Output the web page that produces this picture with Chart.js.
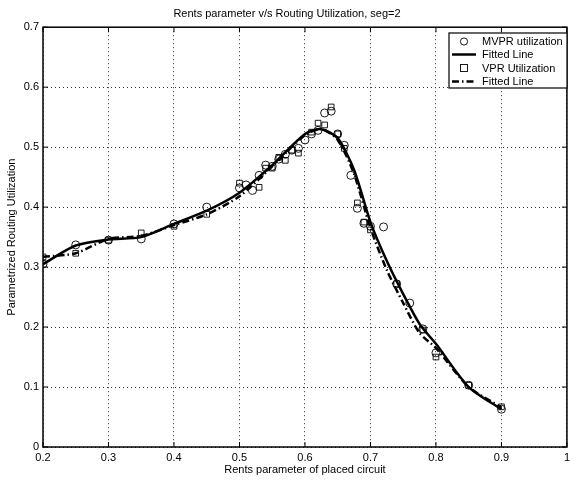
<!DOCTYPE html>
<html><head><meta charset="utf-8">
<script src="https://cdn.jsdelivr.net/npm/chart.js@4/dist/chart.umd.min.js"></script>
<style>html,body{margin:0;padding:0;background:#fff}#wrap{width:574px;height:481px}</style>
</head><body><div id="wrap"><canvas id="c" width="574" height="481"></canvas></div>
<script>
const titleText = "Rents parameter v/s Routing Utilization, seg=2";
const xLabel = "Rents parameter of placed circuit";
const yLabel = "Parametrized Routing Utilization";
const seriesNames = ["MVPR utilization", "Fitted Line", "VPR Utilization", "Fitted Line"];
const xTicks = [0.2,0.3,0.4,0.5,0.6,0.7,0.8,0.9,1];
const yTicks = [0,0.1,0.2,0.3,0.4,0.5,0.6,0.7];

const mvprX = [0.2,0.25,0.3,0.35,0.4,0.45,0.5,0.51,0.52,0.53,0.54,0.55,0.56,0.57,0.58,0.59,0.6,0.61,0.62,0.63,0.64,0.65,0.66,0.67,0.68,0.69,0.70,0.72,0.74,0.76,0.78,0.8,0.85,0.9];
const mvprY = [0.305,0.337,0.345,0.347,0.372,0.400,0.432,0.437,0.428,0.453,0.470,0.468,0.480,0.488,0.495,0.498,0.512,0.522,0.528,0.557,0.560,0.522,0.503,0.453,0.398,0.373,0.368,0.367,0.272,0.240,0.197,0.157,0.103,0.063];

const vprX = [0.2,0.25,0.3,0.35,0.4,0.45,0.5,0.53,0.54,0.55,0.56,0.57,0.58,0.59,0.61,0.62,0.63,0.64,0.65,0.66,0.68,0.69,0.70,0.74,0.78,0.8,0.85,0.9];
const vprY = [0.317,0.323,0.345,0.357,0.368,0.388,0.440,0.433,0.465,0.465,0.483,0.478,0.495,0.490,0.525,0.540,0.537,0.567,0.522,0.498,0.407,0.375,0.362,0.272,0.195,0.150,0.103,0.067];

const fitX = [0.2,0.25,0.3,0.35,0.4,0.45,0.5,0.55,0.6,0.625,0.65,0.675,0.7,0.725,0.75,0.775,0.8,0.85,0.9];
const fitMvprY = [0.305,0.336,0.346,0.350,0.372,0.394,0.424,0.470,0.522,0.530,0.515,0.462,0.375,0.310,0.255,0.205,0.172,0.100,0.063];
const fitVprY  = [0.317,0.323,0.347,0.352,0.370,0.388,0.418,0.468,0.520,0.530,0.512,0.455,0.365,0.295,0.240,0.190,0.165,0.100,0.066];

const pts = (xs, ys) => xs.map((x, i) => ({x, y: ys[i]}));
const FONT = "'Liberation Sans', Arial, Helvetica, sans-serif";

const boxPlugin = {
  id: 'box',
  afterDatasetsDraw(chart) {
    const {ctx, chartArea: a, scales} = chart;
    ctx.save();
    ctx.strokeStyle = '#000';
    ctx.lineWidth = 1;
    const tl = 5;
    scales.x.ticks.forEach(t => {
      const px = scales.x.getPixelForValue(t.value);
      ctx.beginPath(); ctx.moveTo(px, a.bottom); ctx.lineTo(px, a.bottom - tl);
      ctx.moveTo(px, a.top); ctx.lineTo(px, a.top + tl); ctx.stroke();
    });
    scales.y.ticks.forEach(t => {
      const py = scales.y.getPixelForValue(t.value);
      ctx.beginPath(); ctx.moveTo(a.left, py); ctx.lineTo(a.left + tl, py);
      ctx.moveTo(a.right, py); ctx.lineTo(a.right - tl, py); ctx.stroke();
    });
    ctx.lineWidth = 1.5;
    ctx.strokeRect(a.left, a.top, a.right - a.left, a.bottom - a.top);
    // legend
    const lx = 449, ly = 33, lw = 118, lh = 55;
    ctx.fillStyle = '#fff';
    ctx.fillRect(lx, ly, lw, lh);
    ctx.lineWidth = 1.2;
    ctx.strokeRect(lx, ly, lw, lh);
    ctx.font = "11px " + FONT;
    ctx.textBaseline = 'middle';
    ctx.textAlign = 'left';
    const rows = [41.5, 54.5, 68, 81.5];
    chart.data.datasets.forEach((ds, i) => {
      const y = rows[i];
      ctx.strokeStyle = '#000';
      if (i === 0) {
        ctx.lineWidth = 0.9; ctx.setLineDash([]);
        ctx.beginPath(); ctx.arc(464, y, 3.6, 0, Math.PI * 2); ctx.stroke();
      } else if (i === 2) {
        ctx.lineWidth = 0.9; ctx.setLineDash([]);
        ctx.strokeRect(460.5, y - 3.5, 7, 7);
      } else {
        ctx.lineWidth = 2.5;
        ctx.setLineDash(ds.borderDash || []);
        ctx.beginPath(); ctx.moveTo(452, y); ctx.lineTo(476, y); ctx.stroke();
        ctx.setLineDash([]);
      }
      ctx.fillStyle = '#000';
      ctx.fillText(ds.label, 482, y + 0.5);
    });
    ctx.restore();
  }
};

new Chart(document.getElementById('c'), {
  type: 'scatter',
  data: {
    datasets: [
      {label: seriesNames[0], data: pts(mvprX, mvprY), showLine: false, pointStyle: 'circle', pointRadius: 4, borderColor: '#000', backgroundColor: 'rgba(0,0,0,0)', borderWidth: 0.9},
      {label: seriesNames[1], data: pts(fitX, fitMvprY), showLine: true, pointRadius: 0, borderColor: '#000', borderWidth: 2.5, tension: 0.25, fill: false},
      {label: seriesNames[2], data: pts(vprX, vprY), showLine: false, pointStyle: 'rect', pointRadius: 4, borderColor: '#000', backgroundColor: 'rgba(0,0,0,0)', borderWidth: 0.9},
      {label: seriesNames[3], data: pts(fitX, fitVprY), showLine: true, pointRadius: 0, borderColor: '#000', borderWidth: 2.5, borderDash: [7, 3, 1.5, 3], tension: 0.25, fill: false}
    ]
  },
  options: {
    responsive: false,
    animation: false,
    events: [],
    layout: {padding: {left: 0, right: 0, top: 0, bottom: 0}},
    plugins: {
      legend: {display: false},
      tooltip: {enabled: false},
      title: {display: true, text: titleText, color: '#000', font: {family: FONT, size: 11, weight: 'normal'}, padding: {top: 7, bottom: 7}}
    },
    scales: {
      x: {
        type: 'linear', min: 0.2, max: 1,
        afterBuildTicks: s => { s.ticks = xTicks.map(v => ({value: v})); },
        afterFit: s => { s.height = 34; },
        grid: {drawTicks: false, color: '#333', lineWidth: 1},
        border: {display: false, dash: [1, 3]},
        ticks: {padding: 4, color: '#000', font: {family: FONT, size: 11}, callback: v => String(v)},
        title: {display: true, text: xLabel, color: '#000', font: {family: FONT, size: 11}, padding: {top: 0, bottom: 4}}
      },
      y: {
        type: 'linear', min: 0, max: 0.7,
        afterBuildTicks: s => { s.ticks = yTicks.map(v => ({value: v})); },
        afterFit: s => { s.width = 43; },
        grid: {drawTicks: false, color: '#333', lineWidth: 1},
        border: {display: false, dash: [1, 3]},
        ticks: {padding: 4, color: '#000', font: {family: FONT, size: 11}, callback: v => String(v)},
        title: {display: true, text: yLabel, color: '#000', font: {family: FONT, size: 11}, padding: {top: 5, bottom: 0}}
      }
    }
  },
  plugins: [boxPlugin]
});
</script>
</body></html>
